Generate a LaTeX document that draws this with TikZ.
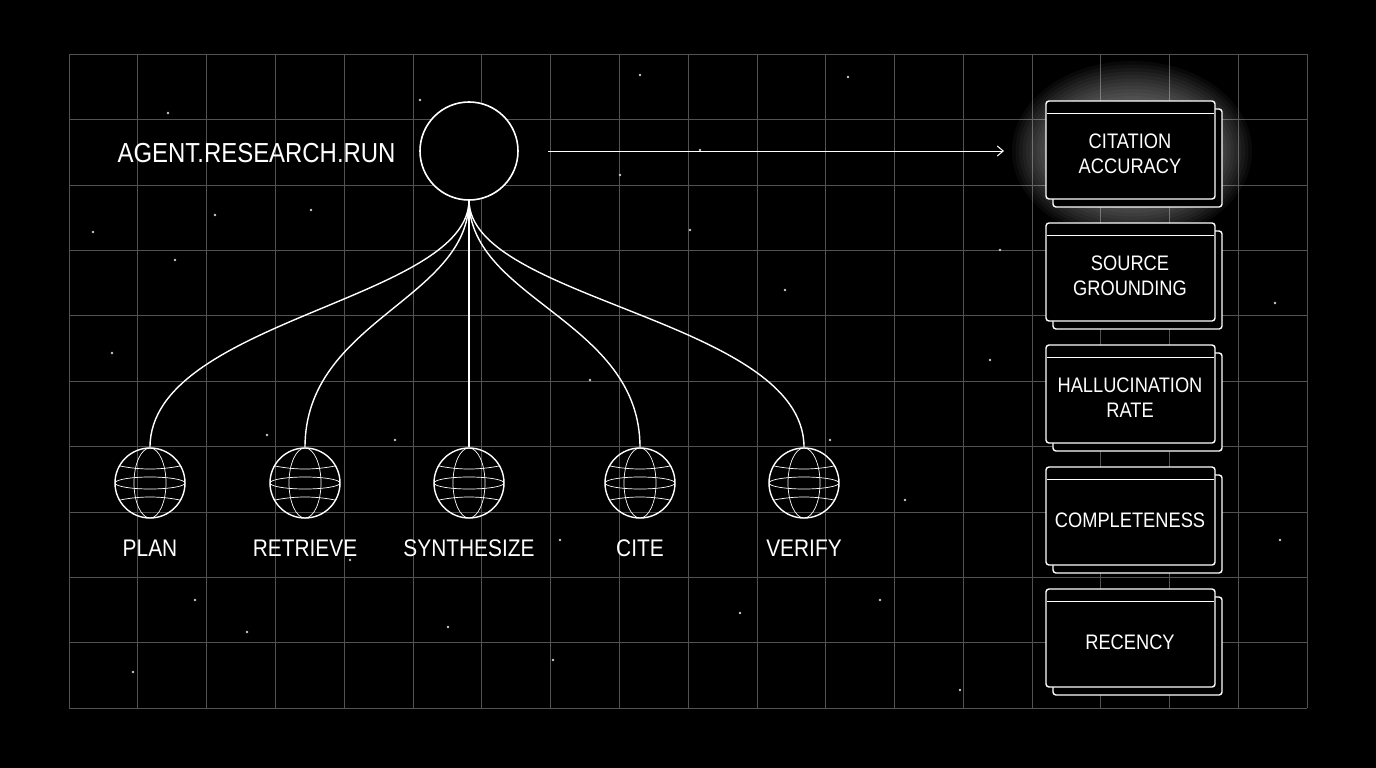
\documentclass[tikz,border=0pt]{standalone}
\usepackage{fontspec}
\setmainfont[FakeStretch=0.87]{Liberation Sans}
\usetikzlibrary{arrows.meta}
\begin{document}
\begin{tikzpicture}[x=1pt,y=-1pt,
  wire/.style={draw=white,line width=1.4pt},
  grid/.style={draw=white!32!black,line width=0.6pt},
  lbl/.style={text=white,font=\fontsize{24}{28}\selectfont},
  card/.style={text=white,font=\fontsize{21}{25}\selectfont,align=center}]
\fill[black] (0,0) rectangle (1376,768);
\useasboundingbox (0,0) rectangle (1376,768);
% grid
\foreach \i in {0,...,18} \draw[grid] ({69+\i*68.78},54) -- ({69+\i*68.78},708);
\foreach \j in {0,...,10} \draw[grid] (69,{54+\j*65.4}) -- (1307,{54+\j*65.4});
% stars
\foreach \p in {(168,113),(93,232),(215,215),(175,260),(112,353),(267,435),(195,600),(247,632),(133,672),(311,210),(395,440),(420,100),(640,75),(848,77),(785,290),(990,360),(905,500),(740,613),(448,627),(553,660),(620,175),(690,230),(880,600),(960,690),(1275,303),(1280,540),(830,440),(590,380),(1000,250),(700,150),(350,560),(560,540)}
  \fill[white!80!black] \p circle (1.4);
% glow
\foreach \r in {1,...,20}
  \fill[white,opacity=0.035] (1132,151) ellipse ({50+\r*3.5} and {20+\r*3.5});
% hub
\node[circle,draw=white,line width=1.6pt,minimum size=98pt,fill=black] (hub) at (469,151) {};
\node[lbl,anchor=east,font=\fontsize{27.5}{30}\selectfont] (title) at (399,153) {AGENT.RESEARCH.RUN};
\coordinate (hb) at (469,200);
% spheres
\foreach \n/\x/\t in {s1/150/PLAN,s2/305/RETRIEVE,s3/469/SYNTHESIZE,s4/640/CITE,s5/804/VERIFY}{
  \node[circle,draw=white,line width=1.4pt,minimum size=70pt,inner sep=0] (\n) at (\x,483) {};
  \draw[white,line width=0.7pt] (\x,483) ellipse (35 and 6);
  \draw[white,line width=0.7pt] (\x,483) ellipse (16 and 35);
  \draw[white,line width=0.7pt] (\x-30,466) .. controls (\x-10,470) and (\x+10,470) .. (\x+30,466);
  \draw[white,line width=0.7pt] (\x-30,500) .. controls (\x-10,496) and (\x+10,496) .. (\x+30,500);
  \node[lbl] (\n l) at (\x,548) {\t};
}
\draw[wire] (hb) .. controls (469,300) and (150,320) .. (s1.north);
\draw[wire] (hb) .. controls (469,300) and (305,320) .. (s2.north);
\draw[wire] (hb) -- (s3.north);
\draw[wire] (hb) .. controls (469,300) and (640,320) .. (s4.north);
\draw[wire] (hb) .. controls (469,300) and (804,320) .. (s5.north);
% cards
\foreach \n/\y/\t in {c1/151/{CITATION\\ACCURACY},c2/273/{SOURCE\\GROUNDING},c3/395/{HALLUCINATION\\RATE},c4/517/{COMPLETENESS},c5/639/{RECENCY}}{
  \draw[white,line width=1.4pt,rounded corners=3pt,fill=black] (1053,\y-42) rectangle (1222,\y+56);
  \draw[white,line width=1.4pt,rounded corners=3pt,fill=black] (1046,\y-50) rectangle (1215,\y+48);
  \draw[white,line width=1pt] (1047,\y-38) -- (1214,\y-38);
  \node[card] (\n) at (1130,\y+3) {\t};
}
\coordinate (as) at (548,151);
\coordinate (ae) at (1004,151);
\draw[white,line width=1pt,-{Straight Barb[length=6pt,width=10pt]}] (as) -- (ae);
\end{tikzpicture}
\end{document}
